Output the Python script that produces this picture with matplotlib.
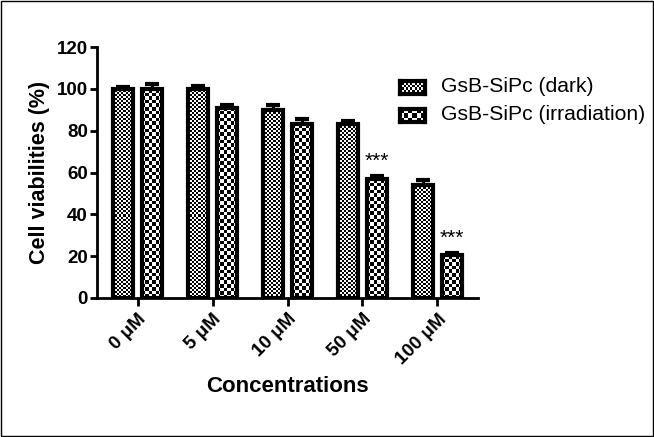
import numpy as np
import matplotlib
matplotlib.use("Agg")
import matplotlib.pyplot as plt
from matplotlib.patches import Rectangle

plt.rcParams['font.family'] = ['Liberation Sans', 'DejaVu Sans']

# data
concs = ['0 μM', '5 μM', '10 μM', '50 μM', '100 μM']
dark = [100, 100, 90, 83, 54]
dark_err = [1, 1.5, 2.5, 1.5, 2.5]
irr = [100, 91, 83, 57, 20.5]
irr_err = [2.5, 1.5, 2.5, 1.5, 1]
stars = ['', '', '', '***', '***']
series = ['GsB-SiPc (dark)', 'GsB-SiPc (irradiation)']

DPI = 100
fig = plt.figure(figsize=(6.54, 4.37), dpi=DPI)
W, H = 654, 437
ax = fig.add_axes([97 / W, 139 / H, (478 - 97) / W, (298 - 47) / H])

x = np.arange(len(concs))
bw = 0.27
off = 0.19
ax.set_xlim(-0.54, 4.54)
ax.set_ylim(0, 120)
PX_X = 75          # px per category
PX_Y = 251 / 120   # px per y unit


def checker(nx, ny):
    return (np.add.outer(np.arange(ny), np.arange(nx)) % 2).astype(float)


def checker_bars(xs, vals, errs, cell):
    bars = ax.bar(xs, vals, bw, color='white', edgecolor='black', linewidth=3, zorder=3)
    ax.errorbar(xs, vals, yerr=[np.zeros(len(errs)), errs], fmt='none', ecolor='black',
                elinewidth=2.2, capsize=5, capthick=3, zorder=2)
    for b in bars:
        x0, y0 = b.get_x(), b.get_y()
        w, h = b.get_width(), b.get_height()
        nx = max(1, int(round(w * PX_X / cell)))
        ny = max(1, int(round(h * PX_Y / cell)))
        im = ax.imshow(checker(nx, ny), cmap='gray',
                       extent=(x0, x0 + w, y0 + h - ny * cell / PX_Y, y0 + h),
                       aspect='auto', interpolation='nearest', zorder=2.5, vmin=0, vmax=1)
        im.set_clip_path(b)
        b.set_facecolor('none')
    return bars


checker_bars(x - off, dark, dark_err, 2.0)
checker_bars(x + off, irr, irr_err, 3.6)

for xi, v, e, s in zip(x + off, irr, irr_err, stars):
    if s:
        ax.text(xi, v + e + 2.5, s, ha='center', va='bottom', fontsize=15)

ax.set_yticks([0, 20, 40, 60, 80, 100, 120])
ax.set_xticks(x)
ax.set_xticklabels(concs, rotation=45, ha='right', rotation_mode='anchor')
for lab in ax.get_xticklabels() + ax.get_yticklabels():
    lab.set_fontweight('bold')
    lab.set_fontsize(13.5)
ax.tick_params(axis='both', direction='out', length=6, width=2, pad=3)
ax.tick_params(axis='y', length=5, pad=1.5)
for sp in ['top', 'right']:
    ax.spines[sp].set_visible(False)
for sp in ['left', 'bottom']:
    ax.spines[sp].set_linewidth(2)
ax.set_ylabel('Cell viabilities (%)', fontsize=15.5, fontweight='bold', labelpad=5)
ax.set_xlabel('Concentrations', fontsize=16, fontweight='bold', labelpad=6)

# legend drawn by hand so the checker swatches match the bars
for i, (name, cell) in enumerate(zip(series, [2.0, 3.6])):
    yc = 87 + i * 28
    sw = fig.add_axes([400 / W, 1 - (yc + 7) / H, 25 / W, 13 / H])
    sw.imshow(checker(int(25 / cell), int(13 / cell)), cmap='gray', aspect='auto',
              interpolation='nearest', vmin=0, vmax=1)
    sw.set_xticks([])
    sw.set_yticks([])
    for sp in sw.spines.values():
        sp.set_linewidth(3)
    fig.text(441 / W, 1 - yc / H, name, fontsize=15.2, va='center', ha='left')

fig.add_artist(Rectangle((0.002, 0.002), 0.996, 0.996, transform=fig.transFigure,
                         fill=False, edgecolor='black', linewidth=1))

fig.savefig('out.png', dpi=DPI)
